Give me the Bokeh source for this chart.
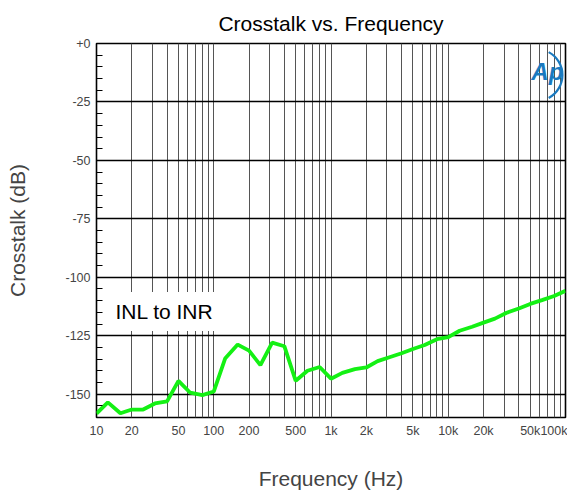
from bokeh.plotting import figure
from bokeh.models import Range1d, FixedTicker, Label
from bokeh.embed import file_html
from bokeh.resources import INLINE

# ---- data ----
freq_hz = [10, 12.5, 16, 20, 25, 31.5, 40, 50, 63, 80,
           100, 125, 160, 200, 250, 315, 400, 500, 630, 800,
           1000, 1250, 1600, 2000, 2500, 3150, 4000, 5000, 6300, 8000,
           10000, 12500, 16000, 20000, 25000, 31500, 40000, 50000, 63000, 80000,
           100000]
crosstalk_db = [-158.3, -153.5, -158.2, -156.6, -156.6, -154.0, -153.1, -144.3, -149.4, -150.4,
                -148.9, -134.8, -128.8, -131.4, -137.6, -128.0, -129.5, -144.3, -140.0, -138.4,
                -143.4, -140.9, -139.3, -138.6, -135.9, -134.2, -132.5, -130.7, -129.0, -126.5,
                -125.6, -122.9, -121.2, -119.4, -117.7, -115.2, -113.4, -111.4, -109.8, -108.0,
                -105.8]

x_major_ticks = [10, 20, 50, 100, 200, 500, 1000, 2000, 5000, 10000, 20000, 50000, 100000]
x_tick_labels = ["10", "20", "50", "100", "200", "500", "1k", "2k", "5k", "10k", "20k", "50k", "100k"]
x_minor_ticks = [m * d for d in [10, 100, 1000, 10000] for m in range(1, 10)
                 if m * d not in x_major_ticks]
y_major_ticks = [-150, -125, -100, -75, -50, -25, 0]
y_tick_labels = ["-150", "-125", "-100", "-75", "-50", "-25", "+0"]
y_minor_ticks = [v for v in range(-155, 0, 5) if v % 25 != 0]

series_label = "INL to INR"
FONT = "Liberation Sans"

p = figure(width=567, height=495, x_axis_type="log",
           x_range=Range1d(10, 100000), y_range=Range1d(-160, 0),
           output_backend="svg", toolbar_location=None,
           min_border_left=96, min_border_right=2,
           min_border_top=43, min_border_bottom=78,
           title="Crosstalk vs. Frequency")

p.background_fill_color = "white"
p.border_fill_color = "white"
p.outline_line_color = "black"
p.outline_line_width = 1.6

p.title.align = "center"
p.title.text_font = FONT
p.title.text_font_size = "21px"
p.title.text_font_style = "normal"
p.title.text_color = "black"
p.title.standoff = 18

# x axis
xa = p.xaxis[0]
xa.ticker = FixedTicker(ticks=x_major_ticks, minor_ticks=x_minor_ticks)
xa.major_label_overrides = {t: lab for t, lab in zip(x_major_ticks, x_tick_labels)}
xa.major_tick_in = 0
xa.major_tick_out = 0
xa.minor_tick_in = 0
xa.minor_tick_out = 0
xa.axis_line_color = None
xa.major_label_standoff = 6
xa.major_label_text_font = FONT
xa.major_label_text_font_size = "12.5px"
xa.axis_label = "Frequency (Hz)"
xa.axis_label_text_font = FONT
xa.axis_label_text_font_size = "21px"
xa.axis_label_text_font_style = "normal"
xa.axis_label_standoff = 26

# y axis
ya = p.yaxis[0]
ya.ticker = FixedTicker(ticks=y_major_ticks, minor_ticks=y_minor_ticks)
ya.major_label_overrides = {t: lab for t, lab in zip(y_major_ticks, y_tick_labels)}
ya.major_tick_in = 0
ya.major_tick_out = 0
ya.minor_tick_in = 6
ya.minor_tick_out = 0
ya.minor_tick_line_color = "black"
ya.minor_tick_line_width = 1.2
ya.axis_line_color = None
ya.major_label_standoff = 6
ya.major_label_text_font = FONT
ya.major_label_text_font_size = "12.5px"
ya.axis_label = "Crosstalk (dB)"
ya.axis_label_text_font = FONT
ya.axis_label_text_font_size = "21px"
ya.axis_label_text_font_style = "normal"
ya.axis_label_standoff = 33

# grids
p.xgrid.grid_line_color = "#555555"
p.xgrid.grid_line_width = 1
p.xgrid.minor_grid_line_color = "#555555"
p.xgrid.minor_grid_line_width = 1
p.ygrid.grid_line_color = "black"
p.ygrid.grid_line_width = 1.4

# data line
p.line(freq_hz, crosstalk_db, line_color="#14f014", line_width=3.8)

# series label with white box
p.add_layout(Label(x=12.4, y=-114.6, text=series_label,
                   text_align="left", text_baseline="middle",
                   text_font=FONT, text_font_size="21px", text_color="black",
                   background_fill_color="white", padding=8))

# Ap logo
p.arc(x=[56500], y=[-13.5], radius=26, radius_units="screen",
      start_angle=-1.08, end_angle=1.08, line_color="#1a7abf", line_width=2.2)
p.add_layout(Label(x=70000, y=-12, text="Ap", text_align="center", text_baseline="middle",
                   text_font=FONT, text_font_size="24px", text_font_style="bold italic",
                   text_color="#1a7abf"))

open("out.html", "w").write(file_html(p, INLINE))
